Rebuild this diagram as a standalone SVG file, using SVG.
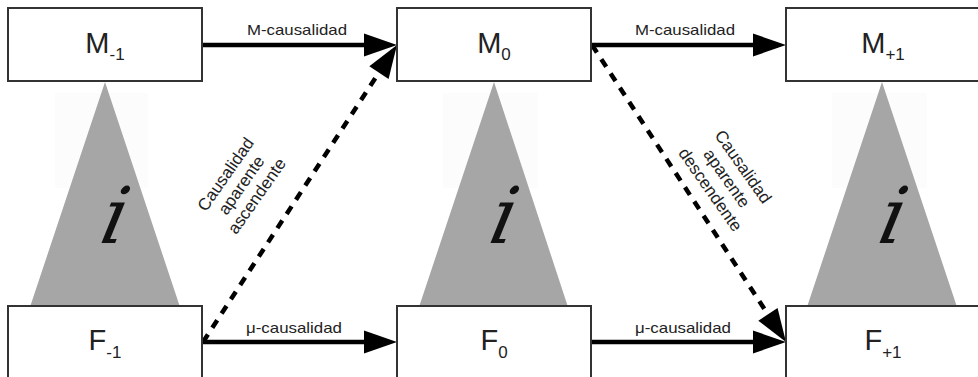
<svg xmlns="http://www.w3.org/2000/svg" width="978" height="377" viewBox="0 0 978 377">
<style>
.box{fill:#fff;stroke:#333;stroke-width:2}
.tri{fill:#a6a6a6}
.ghost{fill:#fcfcfc}
.lbl{font-family:"Liberation Sans",Arial,sans-serif;font-size:29px;fill:#222;text-anchor:middle}
.sub{font-size:17px}
.ci{font-family:"DejaVu Serif","Liberation Serif",serif;font-style:italic;font-size:78px;fill:#111;text-anchor:middle}
.cl{font-family:"Liberation Sans",Arial,sans-serif;font-size:15px;fill:#222;text-anchor:middle}
.dl{font-family:"Liberation Sans",Arial,sans-serif;font-size:17px;fill:#222;text-anchor:middle}
.solid{fill:none;stroke:#000;stroke-width:4.5}
.dash{fill:none;stroke:#000;stroke-width:4.5;stroke-dasharray:9 8}
</style>
<defs>
<marker id="ah" markerUnits="userSpaceOnUse" markerWidth="34" markerHeight="24" refX="25" refY="11.5" orient="auto" overflow="visible">
<path d="M0,0 L33,11.5 L0,23 z" fill="#000"/>
</marker>
</defs>
<g id="inherit">
<rect class="ghost" x="55" y="93" width="93" height="95"/>
<rect class="ghost" x="443" y="93" width="95" height="95"/>
<rect class="ghost" x="832" y="93" width="95" height="95"/>
<polygon class="tri" points="105,82 30,307 180,307"/>
<polygon class="tri" points="494,82 419,307 568,307"/>
<polygon class="tri" points="882,82 807,307 957,307"/>
<g transform="translate(110,243) skewX(-12)"><text class="ci" x="0" y="0">i</text></g>
<g transform="translate(499,243) skewX(-12)"><text class="ci" x="0" y="0">i</text></g>
<g transform="translate(888,243) skewX(-12)"><text class="ci" x="0" y="0">i</text></g>
</g>
<g id="connectors">
<path class="solid" d="M202,45 L389,45" marker-end="url(#ah)"/>
<path class="solid" d="M591,45 L778,45" marker-end="url(#ah)"/>
<path class="solid" d="M202,342 L389,342" marker-end="url(#ah)"/>
<path class="solid" d="M591,342 L778,342" marker-end="url(#ah)"/>
<path class="dash" d="M203,342 L392.6,51.7" marker-end="url(#ah)"/>
<path class="dash" d="M592,45 L781.6,335.3" marker-end="url(#ah)"/>
<text class="cl" x="297" y="35" textLength="100" lengthAdjust="spacingAndGlyphs">M-causalidad</text>
<text class="cl" x="685" y="35" textLength="100" lengthAdjust="spacingAndGlyphs">M-causalidad</text>
<text class="cl" x="294" y="333" textLength="96" lengthAdjust="spacingAndGlyphs">μ-causalidad</text>
<text class="cl" x="683" y="333" textLength="96" lengthAdjust="spacingAndGlyphs">μ-causalidad</text>
<g transform="translate(241,185) rotate(-55)">
<text class="dl" x="0" y="-13">Causalidad</text>
<text class="dl" x="0" y="6">aparente</text>
<text class="dl" x="0" y="25">ascendente</text>
</g>
<g transform="translate(727,178) rotate(55)">
<text class="dl" x="0" y="-14">Causalidad</text>
<text class="dl" x="0" y="6">aparente</text>
<text class="dl" x="0" y="26">descendente</text>
</g>
</g>
<g id="M-1"><rect class="box" x="8" y="8" width="194" height="73"/><text class="lbl" x="105" y="53">M<tspan class="sub" dy="7">-1</tspan></text></g>
<g id="M0"><rect class="box" x="397" y="8" width="194" height="73"/><text class="lbl" x="494" y="53">M<tspan class="sub" dy="7">0</tspan></text></g>
<g id="M+1"><rect class="box" x="786" y="8" width="196" height="73"/><text class="lbl" x="883" y="53">M<tspan class="sub" dy="7">+1</tspan></text></g>
<g id="F-1"><rect class="box" x="8" y="306" width="194" height="73"/><text class="lbl" x="105" y="350">F<tspan class="sub" dy="8">-1</tspan></text></g>
<g id="F0"><rect class="box" x="397" y="306" width="194" height="73"/><text class="lbl" x="494" y="350">F<tspan class="sub" dy="8">0</tspan></text></g>
<g id="F+1"><rect class="box" x="786" y="306" width="196" height="73"/><text class="lbl" x="883" y="350">F<tspan class="sub" dy="8">+1</tspan></text></g>
</svg>
